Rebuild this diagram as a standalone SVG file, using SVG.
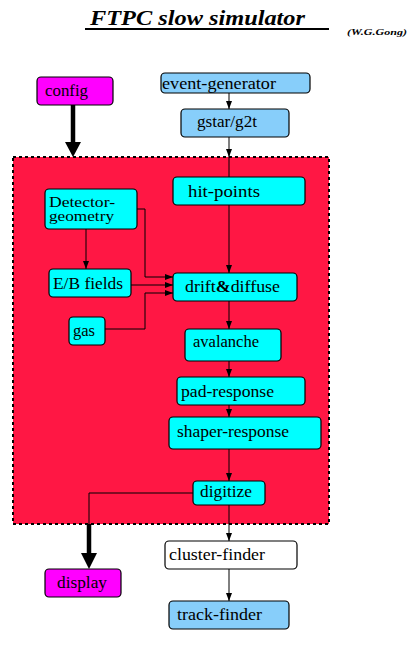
<svg xmlns="http://www.w3.org/2000/svg" width="417" height="645" viewBox="0 0 417 645" font-family="'Liberation Serif', 'DejaVu Serif', 'Times New Roman', serif">
<style>
.box{stroke:#000;stroke-width:1.2}
.cy{fill:#00ffff}
.lb{fill:#87cefa}
.mg{fill:#ff00ff}
.wh{fill:#ffffff}
.t{font-family:'Liberation Serif','DejaVu Serif',serif;font-size:17px;fill:#000}
.s{font-size:14px}
.c{fill:none;stroke:#000;stroke-width:1}
.thick{fill:none;stroke:#000;stroke-width:4.5}
</style>
<defs>
<marker id="a" viewBox="0 0 8 8" refX="8" refY="4" markerWidth="8" markerHeight="8" markerUnits="userSpaceOnUse" orient="auto">
<path d="M0,1 L8,4 L0,7 Z" fill="#000"/>
</marker>
</defs>
<rect width="417" height="645" fill="#fff"/>
<g id="title">
<text x="90" y="25" font-size="21" font-weight="bold" font-style="italic" textLength="215" lengthAdjust="spacingAndGlyphs">FTPC slow simulator</text>
<line x1="85" y1="29" x2="329" y2="29" stroke="#000" stroke-width="2"/>
<text x="347" y="35" font-size="9" font-weight="bold" font-style="italic" textLength="60" lengthAdjust="spacingAndGlyphs">(W.G.Gong)</text>
</g>
<g id="simulator-frame">
<rect x="13" y="157" width="316" height="367" fill="#ff1744" stroke="#000" stroke-width="2" stroke-dasharray="3 3"/>
</g>
<g id="connectors">
<line class="c" x1="229" y1="93" x2="229" y2="109" marker-end="url(#a)"/>
<line class="c" x1="229" y1="137" x2="229" y2="157" marker-end="url(#a)"/>
<line class="c" x1="229" y1="157" x2="229" y2="177"/>
<line class="c" x1="229" y1="205" x2="229" y2="273" marker-end="url(#a)"/>
<line class="c" x1="86" y1="229" x2="86" y2="269" marker-end="url(#a)"/>
<polyline class="c" points="137,209 145,209 145,277 173,277" marker-end="url(#a)"/>
<line class="c" x1="131" y1="285" x2="173" y2="285" marker-end="url(#a)"/>
<polyline class="c" points="105,329 145,329 145,293 173,293" marker-end="url(#a)"/>
<line class="c" x1="229" y1="301" x2="229" y2="329" marker-end="url(#a)"/>
<line class="c" x1="229" y1="361" x2="229" y2="377" marker-end="url(#a)"/>
<line class="c" x1="229" y1="405" x2="229" y2="417" marker-end="url(#a)"/>
<line class="c" x1="229" y1="449" x2="229" y2="481" marker-end="url(#a)"/>
<line class="c" x1="229" y1="505" x2="229" y2="541" marker-end="url(#a)"/>
<line class="c" x1="229" y1="569" x2="229" y2="601" marker-end="url(#a)"/>
<polyline class="c" points="193,493 89,493 89,524"/>
<line class="thick" x1="73" y1="105" x2="73" y2="143"/>
<path d="M65,142 L81,142 L73,157 Z" fill="#000"/>
<line class="thick" x1="89" y1="524" x2="89" y2="554"/>
<path d="M81,553 L97,553 L89,569 Z" fill="#000"/>
</g>
<g id="config"><rect class="box mg" x="37" y="77" width="76" height="28" rx="4"/><text class="t" x="45" y="96" textLength="43" lengthAdjust="spacingAndGlyphs">config</text></g>
<g id="event-generator"><rect class="box lb" x="161" y="73" width="149" height="20" rx="4"/><text class="t" x="162" y="89" textLength="114" lengthAdjust="spacingAndGlyphs">event-generator</text></g>
<g id="gstar-g2t"><rect class="box lb" x="181" y="109" width="108" height="28" rx="4"/><text class="t" x="197" y="127" textLength="60" lengthAdjust="spacingAndGlyphs">gstar/g2t</text></g>
<g id="hit-points"><rect class="box cy" x="173" y="177" width="132" height="28" rx="4"/><text class="t" x="188" y="197" textLength="72" lengthAdjust="spacingAndGlyphs">hit-points</text></g>
<g id="detector-geometry"><rect class="box cy" x="45" y="189" width="92" height="40" rx="4"/><text class="t s" x="49" y="207" textLength="66" lengthAdjust="spacingAndGlyphs">Detector-</text><text class="t s" x="49" y="221" textLength="65" lengthAdjust="spacingAndGlyphs">geometry</text></g>
<g id="eb-fields"><rect class="box cy" x="49" y="269" width="82" height="28" rx="4"/><text class="t" x="53" y="289" textLength="70" lengthAdjust="spacingAndGlyphs">E/B fields</text></g>
<g id="gas"><rect class="box cy" x="69" y="317" width="36" height="28" rx="4"/><text class="t" x="73" y="336" textLength="22" lengthAdjust="spacingAndGlyphs">gas</text></g>
<g id="drift-diffuse"><rect class="box cy" x="173" y="273" width="124" height="28" rx="4"/><text class="t" x="185" y="292" textLength="95" lengthAdjust="spacingAndGlyphs">drift<tspan font-weight="bold">&amp;</tspan>diffuse</text></g>
<g id="avalanche"><rect class="box cy" x="185" y="329" width="96" height="32" rx="4"/><text class="t" x="193" y="347" textLength="66" lengthAdjust="spacingAndGlyphs">avalanche</text></g>
<g id="pad-response"><rect class="box cy" x="177" y="377" width="128" height="28" rx="4"/><text class="t" x="181" y="397" textLength="93" lengthAdjust="spacingAndGlyphs">pad-response</text></g>
<g id="shaper-response"><rect class="box cy" x="169" y="417" width="152" height="32" rx="4"/><text class="t" x="177" y="437" textLength="112" lengthAdjust="spacingAndGlyphs">shaper-response</text></g>
<g id="digitize"><rect class="box cy" x="193" y="481" width="72" height="24" rx="4"/><text class="t" x="200" y="497" textLength="52" lengthAdjust="spacingAndGlyphs">digitize</text></g>
<g id="cluster-finder"><rect class="box wh" x="165" y="541" width="132" height="28" rx="4"/><text class="t" x="169" y="560" textLength="96" lengthAdjust="spacingAndGlyphs">cluster-finder</text></g>
<g id="display"><rect class="box mg" x="45" y="569" width="76" height="28" rx="4"/><text class="t" x="57" y="588" textLength="50" lengthAdjust="spacingAndGlyphs">display</text></g>
<g id="track-finder"><rect class="box lb" x="169" y="601" width="120" height="28" rx="4"/><text class="t" x="177" y="620" textLength="85" lengthAdjust="spacingAndGlyphs">track-finder</text></g>
</svg>
